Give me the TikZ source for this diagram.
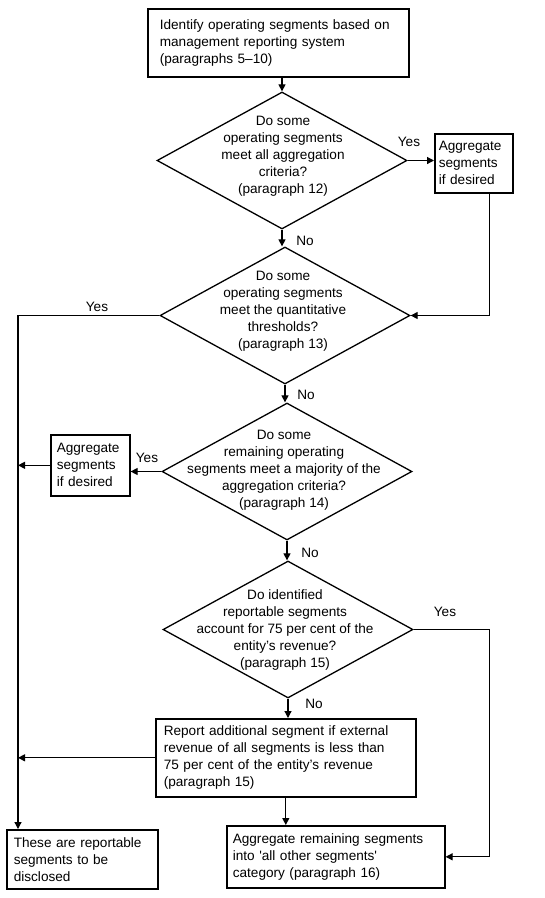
\documentclass[tikz,border=0pt]{standalone}
\usepackage{fontspec}
\setmainfont{Liberation Sans}
\usetikzlibrary{shapes.geometric,arrows.meta,calc}
\begin{document}
\begin{tikzpicture}[x=1pt,y=-1pt,
  box/.style={draw, line width=1.6pt, rectangle, align=left, inner ysep=0pt, font=\fontsize{13.6}{17}\selectfont, anchor=north west},
  dia/.style={draw, line width=1.3pt, diamond, inner sep=0pt},
  dtext/.style={align=center, font=\fontsize{13.6}{17}\selectfont, inner sep=0pt},
  lab/.style={font=\fontsize{13.6}{15}\selectfont, inner sep=0pt},
  conn/.style={line width=1.2pt},
  arr/.style={conn, -{Triangle[length=7pt,width=7pt]}}
]
\useasboundingbox (0,0) rectangle (545,898);

% boxes
\node[box, inner xsep=12pt, text width=237pt, minimum height=68pt] (top) at (147,8) {Identify operating segments based on\\management reporting system\\(paragraphs 5--10)};
\node[box, inner xsep=4pt, text width=70pt, minimum height=59pt] (agg1) at (434,133) {Aggregate\\segments\\if desired};
\node[box, inner xsep=6pt, text width=67pt, minimum height=61pt] (agg2) at (50,434) {Aggregate\\segments\\if desired};
\node[box, inner xsep=8pt, text width=244pt, minimum height=78pt] (report) at (155,718) {Report additional segment if external\\revenue of all segments is less than\\75 per cent of the entity’s revenue\\(paragraph 15)};
\node[box, inner xsep=7pt, text width=137pt, minimum height=59pt] (finalL) at (6,829) {These are reportable\\segments to be\\disclosed};
\node[box, inner xsep=6pt, text width=206pt, minimum height=62pt] (finalR) at (226,825) {Aggregate remaining segments\\into \textquotesingle all other segments\textquotesingle\\category (paragraph 16)};

% diamonds
\node[dia, minimum width=250pt, minimum height=137pt] (d1) at (282,160.5) {};
\node[dia, minimum width=250pt, minimum height=137pt] (d2) at (285,315.5) {};
\node[dia, minimum width=250pt, minimum height=137pt] (d3) at (287,471.5) {};
\node[dia, minimum width=250pt, minimum height=137pt] (d4) at (288,629.5) {};

\node[dtext] (t1) at (283,156) {Do some\\operating segments\\meet all aggregation\\criteria?\\(paragraph 12)};
\node[dtext] (t2) at (283,311) {Do some\\operating segments\\meet the quantitative\\thresholds?\\(paragraph 13)};
\node[dtext] (t3) at (284,470) {Do some\\remaining operating\\segments meet a majority of the\\aggregation criteria?\\(paragraph 14)};
\node[dtext] (t4) at (285,630) {Do identified\\reportable segments\\account for 75 per cent of the\\entity’s revenue?\\(paragraph 15)};

\coordinate (rail) at ($(finalL.north west)+(12,0)$);
\coordinate (rr) at ($(agg1.south)+(16,0)$);

% connectors
\draw[arr] (d1.north |- top.south) -- (d1.north);
\draw[arr] (d1.east) -- (d1.east -| agg1.west);
\node[lab] (y1) at (409,142) {Yes};
\draw[arr] (rr) |- (d2.east);
\draw[arr] (d1.south) -- (d1.south |- d2.north);
\node[lab] (n1) at (305,241) {No};
\draw[arr] (d2.west) -| (rail);
\node[lab] (y2) at (97,307) {Yes};
\draw[arr] (d2.south) -- (d2.south |- d3.north);
\node[lab] (n2) at (306,395) {No};
\draw[arr] (d3.west) -- (d3.west -| agg2.east);
\node[lab] (y3) at (147,458) {Yes};
\draw[arr] (agg2.west) -- (agg2.west -| rail);
\draw[arr] (d3.south) -- (d3.south |- d4.north);
\node[lab] (n3) at (310,553) {No};
\draw[arr] (d4.east) -- (d4.east -| rr) |- (finalR.east);
\node[lab] (y4) at (445,612) {Yes};
\draw[arr] (d4.south) -- (d4.south |- report.north);
\node[lab] (n4) at (314,704) {No};
\draw[arr] (report.west) -- (report.west -| rail);
\draw[arr] (report.south) -- (report.south |- finalR.north);
\end{tikzpicture}
\end{document}
